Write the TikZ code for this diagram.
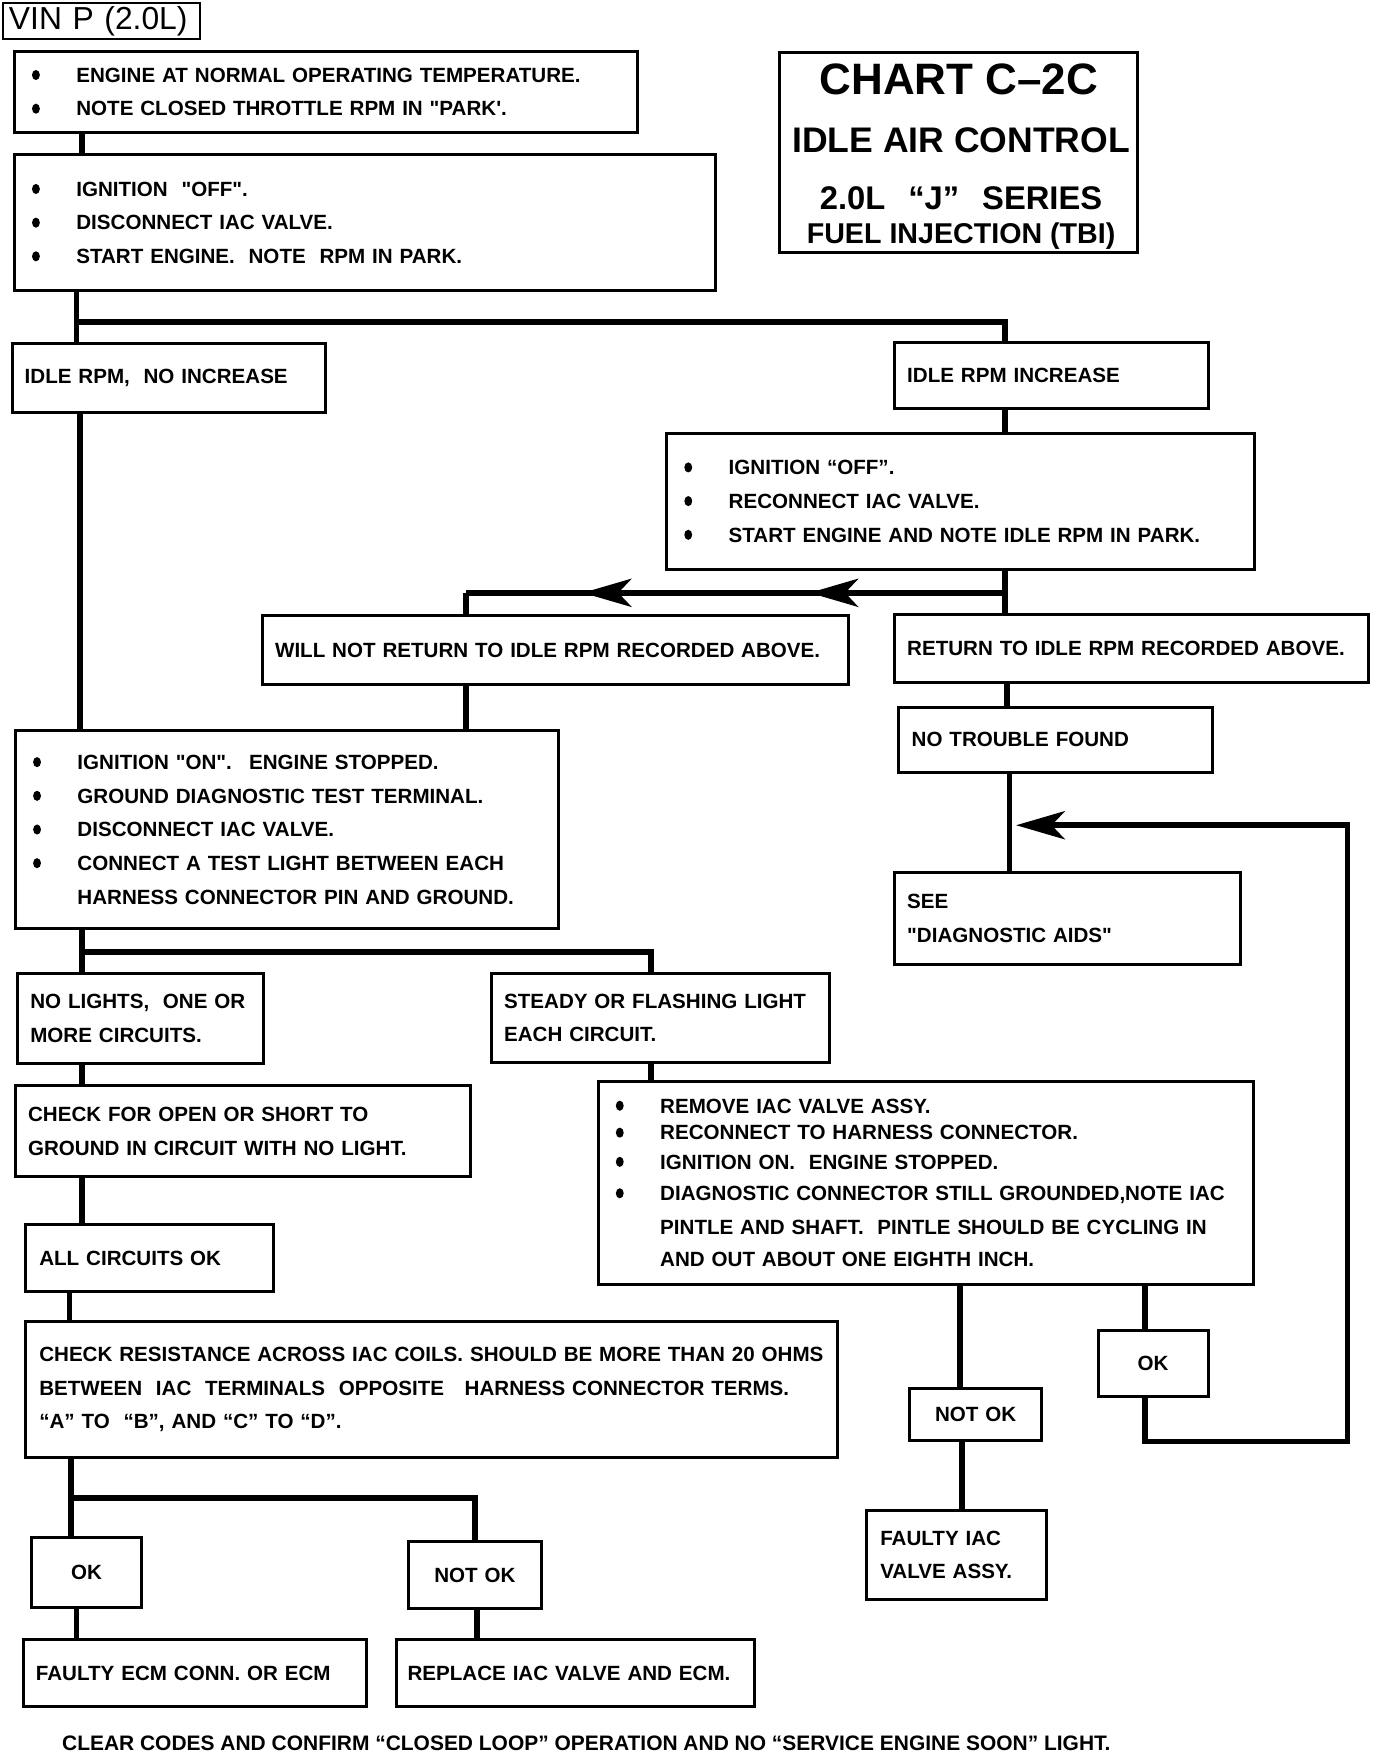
\documentclass[tikz,border=0pt]{standalone}
\usepackage{fontspec}
\setmainfont{Liberation Sans}[Ligatures=TeXOff]
\usetikzlibrary{arrows.meta,decorations.markings}
\newcommand\boxfont{\bfseries\fontsize{11}{18}\selectfont}
\newcommand\bu{\makebox[24pt][l]{\tikz[baseline=0pt,x=1pt,y=1pt]{\useasboundingbox (0,0) rectangle (5pt,1pt);\fill (2.4pt,3.9pt) ellipse[x radius=2.1pt,y radius=2.7pt];}}}
\newcommand\bi{\hspace*{24pt}}
\newcommand\bx[8][]{%
  \pgfmathsetmacro\bxw{(#5-#3)*0.6}%
  \pgfmathsetmacro\bxh{(#6-#4)*0.6}%
  \pgfmathsetmacro\bxt{(#5-#3-2*#7)*0.6}%
  \pgfmathsetmacro\bxp{#7*0.6}%
  \node[box,minimum width=\bxw pt,minimum height=\bxh pt,text width=\bxt pt,inner xsep=\bxp pt,#1] (#2) at ({(#3+#5)/2},{(#4+#6)/2}) {#8};}
\tikzset{
  box/.style={draw,line width=1.6pt,inner ysep=0pt,align=left,font=\boxfont},
  conn/.style={line width=3pt,line join=miter},
  bigtip/.tip={Stealth[length=26pt,width=15pt,inset=7pt]},
  twoarrows/.style={postaction={decorate},decoration={markings,
    mark=at position 104.4pt with {\arrow{bigtip}},
    mark=at position 225.6pt with {\arrow{bigtip}}}},
  ttl/.style={anchor=base,inner sep=0pt,font=\bfseries}
}
\begin{document}
\begin{tikzpicture}[x=0.6pt,y=-0.6pt]
\useasboundingbox (0,0) rectangle (1240,1564);
% column coordinates
\coordinate (kA) at (73,0);
\coordinate (jB) at (68,287);
\coordinate (kD) at (895,0);
\coordinate (jE) at (895,528);
\coordinate (jF) at (415,528);
\coordinate (kG) at (897,0);
\coordinate (kH) at (899,0);
\coordinate (kC) at (71,0);
\coordinate (jJ) at (73,848);
\coordinate (kL) at (580,0);
\coordinate (kO) at (62,0);
\coordinate (jP) at (63,1334);
\coordinate (kR) at (423,0);
\coordinate (kQ) at (68,0);
\coordinate (kT) at (425,0);
\coordinate (kU) at (855,0);
\coordinate (kV) at (857,0);
\coordinate (kW) at (1020,0);
\coordinate (lp1) at (1200,1284);
\coordinate (lp2) at (905,735);

% boxes
\bx[line width=1pt,font=\fontsize{17}{20}\selectfont]{vin}{3}{3}{178}{35}{5}{VIN P (2.0L)}
\bx{A}{13}{46}{568}{118}{15}{\bu ENGINE AT NORMAL OPERATING TEMPERATURE.\\\bu NOTE CLOSED THROTTLE RPM IN "PARK'.}
\bx{B}{13}{138}{637}{259}{15}{\bu IGNITION \ "OFF".\\\bu DISCONNECT IAC VALVE.\\\bu START ENGINE. \ NOTE \ RPM IN PARK.}
\bx{title}{694}{47}{1013}{225}{0}{}
\node[ttl,font=\bfseries\fontsize{23.5}{26}\selectfont] (t1) at (854,84) {CHART C–2C};
\node[ttl,font=\bfseries\fontsize{19}{22}\selectfont] (t2) at (856,136) {IDLE AIR CONTROL};
\node[ttl,font=\bfseries\fontsize{17.5}{20}\selectfont] (t3) at (856,187) {2.0L\hspace{0.7em}“J”\hspace{0.7em}SERIES};
\node[ttl,font=\bfseries\fontsize{15.3}{18}\selectfont] (t4) at (856,217) {FUEL INJECTION (TBI)};
\bx{C}{11}{306}{290}{367}{11}{IDLE RPM, \ NO INCREASE}
\bx{D}{797}{305}{1076}{364}{11}{IDLE RPM INCREASE}
\bx{E}{594}{386}{1117}{507}{15}{\bu IGNITION “OFF”.\\\bu RECONNECT IAC VALVE.\\\bu START ENGINE AND NOTE IDLE RPM IN PARK.}
\bx{F}{234}{548}{756}{610}{11}{WILL NOT RETURN TO IDLE RPM RECORDED ABOVE.}
\bx{G}{797}{547}{1219}{608}{11}{RETURN TO IDLE RPM RECORDED ABOVE.}
\bx{H}{800}{630}{1080}{688}{12}{NO TROUBLE FOUND}
\bx{I}{797}{777}{1105}{859}{11}{SEE\\"DIAGNOSTIC AIDS"}
\bx{J}{14}{651}{497}{827}{15}{\bu IGNITION "ON". \ ENGINE STOPPED.\\\bu GROUND DIAGNOSTIC TEST TERMINAL.\\\bu DISCONNECT IAC VALVE.\\\bu CONNECT A TEST LIGHT BETWEEN EACH\\\bi HARNESS CONNECTOR PIN AND GROUND.}
\bx{K}{16}{867}{235}{947}{11}{NO LIGHTS, \ ONE OR\\MORE CIRCUITS.}
\bx{L}{438}{867}{739}{946}{11}{STEADY OR FLASHING LIGHT\\EACH CIRCUIT.}
\bx{M}{14}{967}{419}{1048}{11}{CHECK FOR OPEN OR SHORT TO\\GROUND IN CIRCUIT WITH NO LIGHT.}
\bx[font=\bfseries\fontsize{11}{14.4}\selectfont]{N}{533}{963}{1116}{1144}{15}{\bu REMOVE IAC VALVE ASSY.\\\bu RECONNECT TO HARNESS CONNECTOR.\\[1.2pt]\bu IGNITION ON. \ ENGINE STOPPED.\\[2.4pt]\bu DIAGNOSTIC CONNECTOR STILL GROUNDED,NOTE IAC\\[3.6pt]\bi PINTLE AND SHAFT. \ PINTLE SHOULD BE CYCLING IN\\[3pt]\bi AND OUT ABOUT ONE EIGHTH INCH.}
\bx{O}{23}{1091}{244}{1150}{12}{ALL CIRCUITS OK}
\bx{P}{23}{1177}{746}{1298}{12}{CHECK RESISTANCE ACROSS IAC COILS. SHOULD BE MORE THAN 20 OHMS\\BETWEEN \ IAC \ TERMINALS \ OPPOSITE \ \ HARNESS CONNECTOR TERMS.\\“A” TO \ “B”, AND “C” TO “D”.}
\bx[align=center]{Q}{28}{1369}{126}{1432}{6}{OK}
\bx[align=center]{R}{364}{1373}{482}{1433}{6}{NOT OK}
\bx{S}{21}{1460}{326}{1520}{11}{FAULTY ECM CONN. OR ECM}
\bx{T}{353}{1460}{672}{1520}{10}{REPLACE IAC VALVE AND ECM.}
\bx[align=center]{U}{810}{1237}{928}{1283}{6}{NOT OK}
\bx{V}{772}{1345}{932}{1425}{12}{FAULTY IAC\\VALVE ASSY.}
\bx[align=center]{W}{978}{1185}{1076}{1244}{6}{OK}
\node[anchor=west,inner sep=0pt,font=\bfseries\fontsize{11.2}{12}\selectfont] (foot) at (55,1553) {CLEAR CODES AND CONFIRM “CLOSED LOOP” OPERATION AND NO “SERVICE ENGINE SOON” LIGHT.};

% connectors
\draw[conn] (A.south -| kA) -- (B.north -| kA);
\draw[conn] (B.south -| jB) -- (C.north -| jB);
\draw[conn] (jB) -| (D.north -| kD);
\draw[conn] (D.south -| kD) -- (E.north -| kD);
\draw[conn] (E.south -| kD) -- (G.north -| kD);
\draw[conn,twoarrows] (jE) -- (jF);
\draw[conn] (jF) -- (F.north -| jF);
\draw[conn] (G.south -| kG) -- (H.north -| kG);
\draw[conn] (H.south -| kH) -- (I.north -| kH);
\draw[conn] (C.south -| kC) -- (J.north -| kC);
\draw[conn] (F.south -| jF) -- (J.north -| jF);
\draw[conn] (J.south -| jJ) -- (K.north -| jJ);
\draw[conn] (jJ) -| (L.north -| kL);
\draw[conn] (L.south -| kL) -- (N.north -| kL);
\draw[conn] (K.south -| kA) -- (M.north -| kA);
\draw[conn] (M.south -| kA) -- (O.north -| kA);
\draw[conn] (O.south -| kO) -- (P.north -| kO);
\draw[conn] (P.south -| jP) -- (Q.north -| jP);
\draw[conn] (jP) -| (R.north -| kR);
\draw[conn] (Q.south -| kQ) -- (S.north -| kQ);
\draw[conn] (R.south -| kT) -- (T.north -| kT);
\draw[conn] (N.south -| kU) -- (U.north -| kU);
\draw[conn] (U.south -| kV) -- (V.north -| kV);
\draw[conn] (N.south -| kW) -- (W.north -| kW);
\draw[conn,-{bigtip}] (W.south -| kW) |- (lp1) |- (lp2);
\end{tikzpicture}
\end{document}
